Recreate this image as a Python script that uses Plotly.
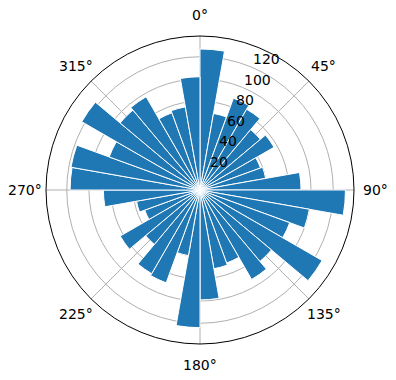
import math
import plotly.graph_objects as go

# bar start angles (degrees, clockwise from north) and heights
bin_starts = list(range(0, 360, 10))
counts = [127, 70, 88, 84, 71, 77, 58, 60, 91, 131,
          100, 86, 127, 84, 93, 70, 72, 99, 124, 60,
          89, 87, 64, 83, 53, 58, 87, 117, 118, 87,
          123, 94, 97, 74, 76, 102]
bin_width = 10
r_ticks = [20, 40, 60, 80, 100, 120]
theta_ticks = [0, 45, 90, 135, 180, 225, 270, 315]
r_max = 138.7
r_label_angle = 22.5

W, H = 396, 380
CX, CY, RAD = 200, 190, 154

centers = [s + bin_width / 2 for s in bin_starts]

fig = go.Figure(go.Barpolar(
    r=counts, theta=centers, width=[bin_width] * len(counts),
    marker=dict(color="#1f77b4", line=dict(color="white", width=1)),
    opacity=1,
))

annotations = []
font = dict(family="DejaVu Sans", size=14, color="black")
# angular labels
for t in theta_ticks:
    a = math.radians(t)
    px = CX + (RAD + 21) * math.sin(a)
    py = CY - (RAD + 21) * math.cos(a)
    annotations.append(dict(x=px / W, y=1 - py / H, xref="paper", yref="paper",
                            text=f"{t}°", showarrow=False, font=font,
                            xanchor="center", yanchor="middle"))
# radial labels
for r in r_ticks:
    a = math.radians(r_label_angle)
    rp = r / r_max * RAD
    px = CX + rp * math.sin(a)
    py = CY - rp * math.cos(a)
    annotations.append(dict(x=px / W, y=1 - py / H, xref="paper", yref="paper",
                            text=str(r), showarrow=False, font=font,
                            xanchor="left", yanchor="middle", xshift=0, yshift=7.5))

fig.update_layout(
    width=W, height=H,
    margin=dict(l=0, r=0, t=0, b=0),
    paper_bgcolor="white",
    showlegend=False,
    font=font,
    annotations=annotations,
    polar=dict(
        domain=dict(x=[(CX - RAD) / W, (CX + RAD) / W],
                    y=[(H - CY - RAD) / H, (H - CY + RAD) / H]),
        bgcolor="white",
        bargap=0,
        angularaxis=dict(
            rotation=90, direction="clockwise",
            tickmode="array", tickvals=theta_ticks,
            showticklabels=False,
            showgrid=True, gridcolor="#b0b0b0", gridwidth=0.8,
            showline=True, linecolor="black", linewidth=1,
            ticks="", layer="above traces",
        ),
        radialaxis=dict(
            range=[0, r_max], tickmode="array", tickvals=r_ticks,
            showticklabels=False,
            showgrid=True, gridcolor="#b0b0b0", gridwidth=0.8,
            showline=False, ticks="", angle=67.5,
            layer="above traces",
        ),
    ),
)

fig.write_html("out.html")
